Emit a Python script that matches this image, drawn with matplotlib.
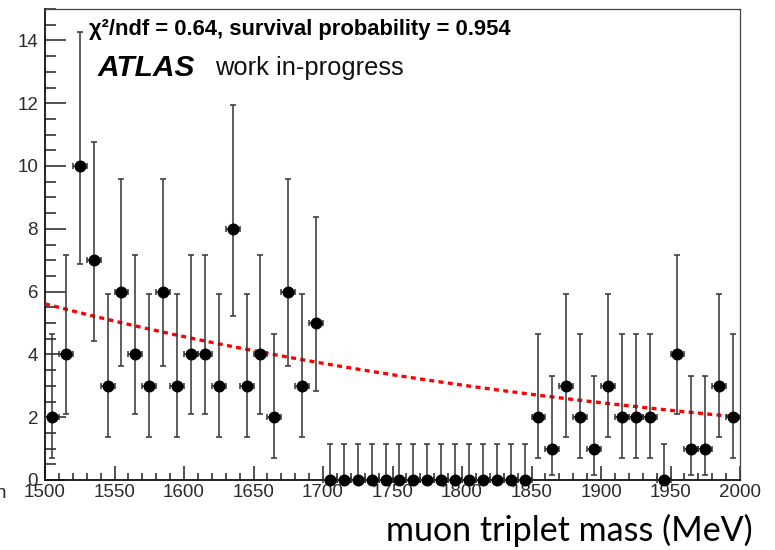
"""Three-muon invariant mass spectrum with an exponential background fit."""

import matplotlib.pyplot as plt
import numpy as np
from matplotlib.ticker import MultipleLocator

# 10 MeV bins between 1500 and 2000 MeV
BIN_WIDTH = 10.0
MASS_LOW = np.arange(1500, 2000, 10)

COUNTS = [
    2, 4, 10, 7, 3, 6, 4, 3, 6, 3,
    4, 4, 3, 8, 3, 4, 2, 6, 3, 5,
    0, 0, 0, 0, 0, 0, 0, 0, 0, 0,
    0, 0, 0, 0, 0, 2, 1, 3, 2, 1,
    3, 2, 2, 2, 0, 4, 1, 1, 3, 2,
]

# 68% interval edges for each observed count
INTERVAL_LOW = {0: 0.0, 1: 0.17, 2: 0.71, 3: 1.37, 4: 2.09, 5: 2.84,
                6: 3.62, 7: 4.42, 8: 5.23, 10: 6.89}
INTERVAL_HIGH = {0: 1.15, 1: 3.30, 2: 4.64, 3: 5.92, 4: 7.16, 5: 8.38,
                 6: 9.58, 7: 10.77, 8: 11.95, 10: 14.27}

# background fit: N(m) = FIT_NORM * exp(FIT_SLOPE * (m - 1500))
FIT_NORM = 5.61
FIT_SLOPE = -0.00206

FIT_LABEL = "χ²/ndf = 0.64, survival probability = 0.954"


def main():
    plt.rcParams["font.family"] = ["Liberation Sans", "DejaVu Sans"]

    fig = plt.figure(figsize=(7.75, 5.5), dpi=100)
    ax = fig.add_axes([45 / 775, 70 / 550, 695 / 775, 471 / 550])

    counts = np.array(COUNTS, dtype=float)
    centers = MASS_LOW + BIN_WIDTH / 2
    lo = np.array([c - INTERVAL_LOW[c] for c in COUNTS])
    hi = np.array([INTERVAL_HIGH[c] - c for c in COUNTS])

    mfit = np.linspace(1500, 2000, 300)
    ax.plot(mfit, FIT_NORM * np.exp(FIT_SLOPE * (mfit - 1500)),
            color="#ff0000", lw=2.4, ls=(0, (1.5, 1.3)), zorder=3)

    ax.errorbar(centers, counts, yerr=[lo, hi], xerr=BIN_WIDTH / 2,
                fmt="o", ms=7.6, color="black", ecolor="#333333",
                elinewidth=1.1, capsize=2.4, capthick=1.1,
                clip_on=False, zorder=4)

    ax.set_xlim(1500, 2000)
    ax.set_ylim(0, 15)
    ax.xaxis.set_major_locator(MultipleLocator(50))
    ax.xaxis.set_minor_locator(MultipleLocator(10))
    ax.yaxis.set_major_locator(MultipleLocator(2))
    ax.yaxis.set_minor_locator(MultipleLocator(0.5))

    ax.tick_params(axis="both", which="both", direction="in",
                   top=False, right=False, width=1.1, color="#222222",
                   labelsize=13.5, labelcolor="#2a2a2a")
    ax.tick_params(axis="y", which="major", length=15, pad=5)
    ax.tick_params(axis="y", which="minor", length=8)
    ax.tick_params(axis="x", which="major", length=10, pad=3)
    ax.tick_params(axis="x", which="minor", length=5)

    for side in ("left", "bottom"):
        ax.spines[side].set_linewidth(1.3)
        ax.spines[side].set_color("#111111")
    for side in ("top", "right"):
        ax.spines[side].set_linewidth(0.9)
        ax.spines[side].set_color("#444444")

    fig.text(89 / 775, 1 - 30 / 550, FIT_LABEL, fontsize=15.8,
             fontweight="bold", va="center", ha="left")
    fig.text(98 / 775, 1 - 68 / 550, "ATLAS", fontsize=21.5,
             fontweight="bold", style="italic", va="center", ha="left")
    fig.text(215 / 775, 1 - 68 / 550, "work in-progress", fontsize=18.4,
             color="#111111", va="center", ha="left")

    fig.text(6 / 775, 1 - 494 / 550, "n", fontsize=13.5, color="#2a2a2a",
             va="center", ha="right")
    fig.text(753 / 775, 1 - 530 / 550, "muon triplet mass (MeV)",
             family=["Lato", "DejaVu Sans"], fontsize=24.5, ha="right",
             va="center")

    fig.savefig("out.png", dpi=100)


if __name__ == "__main__":
    main()
